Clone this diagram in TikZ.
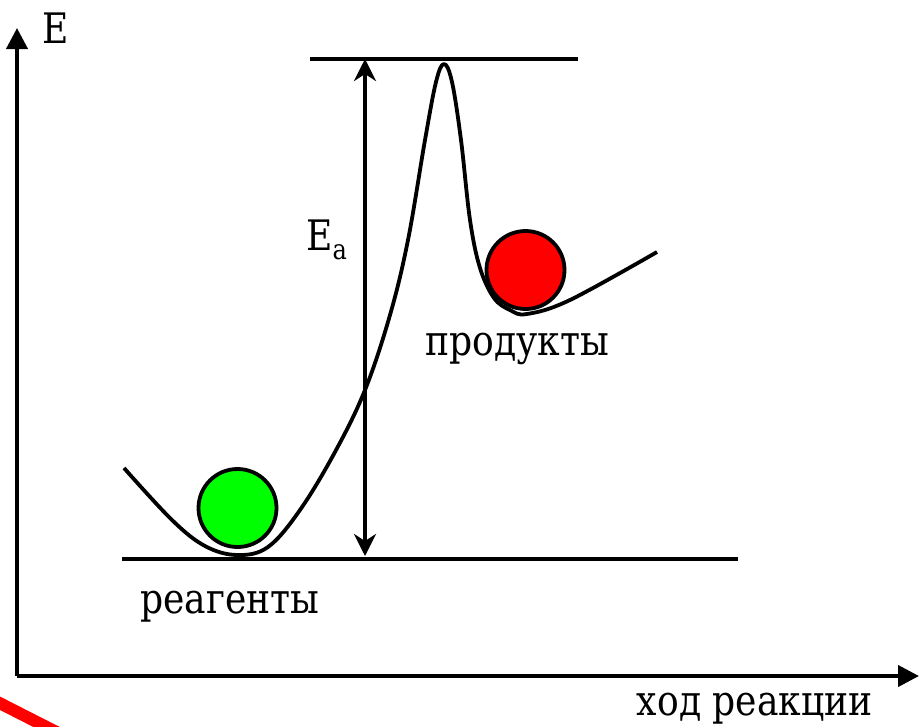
\documentclass[tikz,border=0pt]{standalone}
\usepackage{fontspec}
\newfontfamily\diagfont{DejaVu Serif}
\usetikzlibrary{arrows.meta}
\definecolor{ballgreen}{RGB}{0,255,0}
\definecolor{ballred}{RGB}{255,0,0}
\newcommand{\narrowtxt}[1]{\scalebox{0.86}[1]{#1}}
\tikzset{
  lbl/.style={font=\diagfont\fontsize{42}{48}\selectfont, inner sep=0pt, anchor=base west},
  axisline/.style={line width=4pt, -{Triangle[length=21pt,width=21pt]}},
  levelline/.style={line width=3.6pt},
  curveline/.style={line width=3.8pt, line join=round},
  ball/.style={circle, draw=black, line width=3.8pt, minimum size=78pt, inner sep=0pt},
  eaarrow/.style={line width=3.8pt, {Stealth[length=22pt,width=22pt,inset=7pt]}-{Stealth[length=22pt,width=22pt,inset=7pt]}}
}
\begin{document}
\begin{tikzpicture}[x=1pt,y=-1pt]
\useasboundingbox (0,0) rectangle (920,726);
\fill[white] (0,0) rectangle (920,726);
\begin{scope}
\clip (0,0) rectangle (920,726);
\draw[ballred, line width=12pt] (-30,688) -- (80,744);
\end{scope}
% axes
\coordinate (origin) at (17,676);
\coordinate (ytop) at (17,28);
\coordinate (xend) at (919,676);
\draw[axisline] (origin) -- (ytop);
\draw[axisline] (origin) -- (xend);
\node[lbl] (elabel) at (42,43) {\narrowtxt{E}};
\node[lbl, anchor=base east] (xlabel) at (873,715) {\narrowtxt{ход реакции}};
% level lines
\coordinate (topL) at (310,59);
\coordinate (topR) at (578,59);
\coordinate (botL) at (122,559);
\coordinate (botR) at (738,559);
\draw[levelline] (topL) -- (topR);
\draw[levelline] (botL) -- (botR);
\coordinate (eaTop) at (365,59);
\coordinate (eaBot) at (365,556);
\draw[eaarrow] (eaTop) -- (eaBot);
\node[lbl] (ea) at (306,250) {\narrowtxt{E\raisebox{-0.22em}{\fontsize{28}{30}\selectfont a}}};
% energy curve
\draw[curveline] plot[smooth, tension=0.6] coordinates {
 (124,468) (172,520) (205,546) (237,555) (268,547) (300,510) (335,452) (365,390)
 (390,315) (408,240) (425,140) (436,82)
 (444,64) (452,82) (461,140) (470,220) (480,268) (494,298) (510,310)
 (527,314) (570,300) (657,252)};
\node[ball, fill=ballgreen] (green) at (237.5,508) {};
\node[ball, fill=ballred] (red) at (525.5,270) {};
\node[lbl] (products) at (425,355) {\narrowtxt{продукты}};
\node[lbl] (reagents) at (140,613) {\narrowtxt{реагенты}};
\end{tikzpicture}
\end{document}
